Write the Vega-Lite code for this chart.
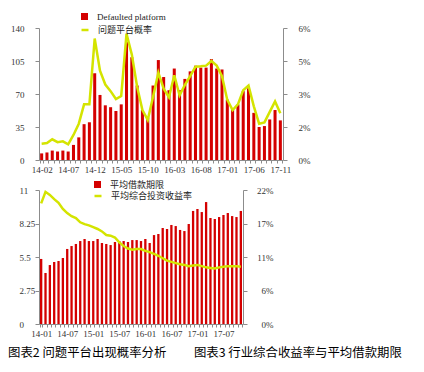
{
  "$schema": "https://vega.github.io/schema/vega-lite/v6.json",
  "padding": {"left": 8, "top": 12, "right": 0, "bottom": 0},
  "bounds": "flush",
  "spacing": 30,
  "resolve": {"scale": {"color": "independent", "stroke": "independent"}, "legend": {"color": "independent", "stroke": "independent"}},
  "datasets": {
    "top": [
      {"m": "14-02", "n": 7, "p": 0.0074}, {"m": "14-03", "n": 8, "p": 0.0077}, {"m": "14-04", "n": 10, "p": 0.0094},
      {"m": "14-05", "n": 9, "p": 0.0081}, {"m": "14-06", "n": 10, "p": 0.0085}, {"m": "14-07", "n": 9, "p": 0.0071},
      {"m": "14-08", "n": 16, "p": 0.0114}, {"m": "14-09", "n": 24, "p": 0.0165}, {"m": "14-10", "n": 38, "p": 0.0253},
      {"m": "14-11", "n": 40, "p": 0.0253}, {"m": "14-12", "n": 92, "p": 0.0552}, {"m": "15-01", "n": 69, "p": 0.0406},
      {"m": "15-02", "n": 58, "p": 0.0343}, {"m": "15-03", "n": 56, "p": 0.0313}, {"m": "15-04", "n": 52, "p": 0.0277},
      {"m": "15-05", "n": 59, "p": 0.0291}, {"m": "15-06", "n": 125, "p": 0.0574}, {"m": "15-07", "n": 109, "p": 0.0479},
      {"m": "15-08", "n": 79, "p": 0.0333}, {"m": "15-09", "n": 53, "p": 0.0227}, {"m": "15-10", "n": 45, "p": 0.0182},
      {"m": "15-11", "n": 79, "p": 0.0287}, {"m": "15-12", "n": 106, "p": 0.0397}, {"m": "16-01", "n": 88, "p": 0.0324},
      {"m": "16-02", "n": 74, "p": 0.0285}, {"m": "16-03", "n": 97, "p": 0.0385}, {"m": "16-04", "n": 74, "p": 0.0294},
      {"m": "16-05", "n": 86, "p": 0.0341}, {"m": "16-06", "n": 94, "p": 0.0381}, {"m": "16-07", "n": 100, "p": 0.0424},
      {"m": "16-08", "n": 98, "p": 0.0426}, {"m": "16-09", "n": 98, "p": 0.0429}, {"m": "16-10", "n": 107, "p": 0.045},
      {"m": "16-11", "n": 97, "p": 0.0429}, {"m": "16-12", "n": 96, "p": 0.0381}, {"m": "17-01", "n": 64, "p": 0.0273},
      {"m": "17-02", "n": 53, "p": 0.0227}, {"m": "17-03", "n": 59, "p": 0.0253}, {"m": "17-04", "n": 73, "p": 0.0317},
      {"m": "17-05", "n": 76, "p": 0.0338}, {"m": "17-06", "n": 50, "p": 0.0244}, {"m": "17-07", "n": 35, "p": 0.0165},
      {"m": "17-08", "n": 36, "p": 0.0171}, {"m": "17-09", "n": 43, "p": 0.0219}, {"m": "17-10", "n": 53, "p": 0.0266},
      {"m": "17-11", "n": 42, "p": 0.0212}
    ],
    "bottom": [
      {"m": "14-01", "t": 5.34, "r": 0.198}, {"m": "14-02", "t": 4.19, "r": 0.217}, {"m": "14-03", "t": 4.84, "r": 0.212},
      {"m": "14-04", "t": 5.09, "r": 0.205}, {"m": "14-05", "t": 5.17, "r": 0.199}, {"m": "14-06", "t": 5.42, "r": 0.189},
      {"m": "14-07", "t": 6.16, "r": 0.182}, {"m": "14-08", "t": 6.4, "r": 0.177}, {"m": "14-09", "t": 6.57, "r": 0.174},
      {"m": "14-10", "t": 6.81, "r": 0.167}, {"m": "14-11", "t": 6.98, "r": 0.164}, {"m": "14-12", "t": 6.81, "r": 0.162},
      {"m": "15-01", "t": 6.81, "r": 0.159}, {"m": "15-02", "t": 6.98, "r": 0.156}, {"m": "15-03", "t": 6.65, "r": 0.152},
      {"m": "15-04", "t": 6.57, "r": 0.146}, {"m": "15-05", "t": 6.48, "r": 0.145}, {"m": "15-06", "t": 6.73, "r": 0.142},
      {"m": "15-07", "t": 6.81, "r": 0.134}, {"m": "15-08", "t": 6.81, "r": 0.128}, {"m": "15-09", "t": 6.73, "r": 0.124},
      {"m": "15-10", "t": 6.89, "r": 0.122}, {"m": "15-11", "t": 6.89, "r": 0.123}, {"m": "15-12", "t": 6.81, "r": 0.123},
      {"m": "16-01", "t": 6.98, "r": 0.12}, {"m": "16-02", "t": 6.65, "r": 0.118}, {"m": "16-03", "t": 7.3, "r": 0.115},
      {"m": "16-04", "t": 7.39, "r": 0.112}, {"m": "16-05", "t": 7.88, "r": 0.108}, {"m": "16-06", "t": 7.8, "r": 0.104},
      {"m": "16-07", "t": 8.13, "r": 0.102}, {"m": "16-08", "t": 8.04, "r": 0.1}, {"m": "16-09", "t": 7.72, "r": 0.098},
      {"m": "16-10", "t": 7.63, "r": 0.097}, {"m": "16-11", "t": 8.21, "r": 0.095}, {"m": "16-12", "t": 9.28, "r": 0.096},
      {"m": "17-01", "t": 9.44, "r": 0.097}, {"m": "17-02", "t": 9.19, "r": 0.095}, {"m": "17-03", "t": 10.01, "r": 0.093},
      {"m": "17-04", "t": 8.7, "r": 0.092}, {"m": "17-05", "t": 8.62, "r": 0.091}, {"m": "17-06", "t": 8.78, "r": 0.093},
      {"m": "17-07", "t": 8.95, "r": 0.094}, {"m": "17-08", "t": 9.11, "r": 0.095}, {"m": "17-09", "t": 8.86, "r": 0.095},
      {"m": "17-10", "t": 8.78, "r": 0.095}, {"m": "17-11", "t": 9.28, "r": 0.094}
    ]
  },
  "title": {
    "text": "图表2 问题平台出现概率分析\u3000\u3000\u00a0图表3 行业综合收益率与平均借款期限",
    "orient": "bottom", "anchor": "start", "frame": "group", "dx": -31, "offset": 9,
    "font": "Noto Sans CJK SC", "fontSize": 12.4, "fontWeight": "normal", "color": "#000000"
  },
  "config": {
    "view": {"stroke": null},
    "axis": {
      "grid": false, "domainColor": "#8c8c8c", "tickColor": "#8c8c8c",
      "labelColor": "#333333", "labelFont": "Liberation Serif", "labelFontSize": 9, "title": null
    },
    "legend": {
      "labelFont": "Liberation Serif, Noto Sans CJK SC", "labelFontSize": 9, "labelColor": "#222222",
      "padding": 0, "labelOffset": 8, "symbolSize": 49, "title": null
    }
  },
  "vconcat": [
    {
      "width": 244, "height": 132,
      "data": {"name": "top"},
      "encoding": {
        "x": {
          "field": "m", "type": "ordinal", "sort": null,
          "scale": {"paddingInner": 0.43, "paddingOuter": 0.215},
          "axis": {
            "labelExpr": "indexof(['14-02','14-07','14-12','15-05','15-10','16-03','16-08','17-01','17-06','17-11'], datum.value) >= 0 ? datum.value : ''",
            "labelAngle": 0, "tickBand": "extent", "tickSize": 3, "labelPadding": 2, "labelOverlap": false, "labelFlush": false
          }
        }
      },
      "layer": [
        {
          "mark": {"type": "bar"},
          "encoding": {
            "y": {"field": "n", "type": "quantitative", "scale": {"domain": [0, 140]},
              "axis": {"values": [0, 35, 70, 105, 140], "tickSize": 4, "labelPadding": 11}},
            "color": {"datum": "Defaulted platform", "scale": {"range": ["#d40000"]},
              "legend": {"orient": "none", "legendX": 41, "legendY": -16, "symbolType": "square"}}
          }
        },
        {
          "mark": {"type": "line", "strokeWidth": 2.5},
          "encoding": {
            "y": {"field": "p", "type": "quantitative", "scale": {"domain": [0, 0.06]},
              "axis": {"orient": "right", "values": [0, 0.015, 0.03, 0.045, 0.06], "labelExpr": "round(datum.value*100+0.001) + '%'",
                "tickSize": 4, "labelPadding": 11, "labelAlign": "left"}},
            "stroke": {"datum": "问题平台概率", "scale": {"range": ["#d4e400"]},
              "legend": {"orient": "none", "legendX": 41, "legendY": -3, "symbolType": "stroke", "symbolStrokeWidth": 2.5}}
          }
        }
      ],
      "resolve": {"scale": {"y": "independent"}}
    },
    {
      "width": 204, "height": 134,
      "data": {"name": "bottom"},
      "encoding": {
        "x": {
          "field": "m", "type": "ordinal", "sort": null,
          "scale": {"paddingInner": 0.47, "paddingOuter": 0.235},
          "axis": {
            "labelExpr": "indexof(['14-01','14-07','15-01','15-07','16-01','16-07','17-01','17-07'], datum.value) >= 0 ? datum.value : ''",
            "labelAngle": 0, "tickBand": "extent", "tickSize": 3, "labelPadding": 2, "labelOverlap": false, "labelFlush": false
          }
        }
      },
      "layer": [
        {
          "mark": {"type": "bar"},
          "encoding": {
            "y": {"field": "t", "type": "quantitative", "scale": {"domain": [0, 11]},
              "axis": {"values": [0, 2.75, 5.5, 8.25, 11], "labelExpr": "'' + datum.value", "tickSize": 4, "labelPadding": 16, "labelAlign": "left"}},
            "color": {"datum": "平均借款期限", "scale": {"range": ["#d40000"]},
              "legend": {"orient": "none", "legendX": 54, "legendY": -10, "symbolType": "square"}}
          }
        },
        {
          "mark": {"type": "line", "strokeWidth": 2.5},
          "encoding": {
            "y": {"field": "r", "type": "quantitative", "scale": {"domain": [0, 0.22]},
              "axis": {"orient": "right", "values": [0, 0.055, 0.11, 0.165, 0.22], "labelExpr": "round(datum.value*100+0.001) + '%'",
                "tickSize": 4, "labelPadding": 26, "labelAlign": "right"}},
            "stroke": {"datum": "平均综合投资收益率", "scale": {"range": ["#d4e400"]},
              "legend": {"orient": "none", "legendX": 54, "legendY": 1, "symbolType": "stroke", "symbolStrokeWidth": 2.5}}
          }
        }
      ],
      "resolve": {"scale": {"y": "independent"}}
    }
  ]
}
